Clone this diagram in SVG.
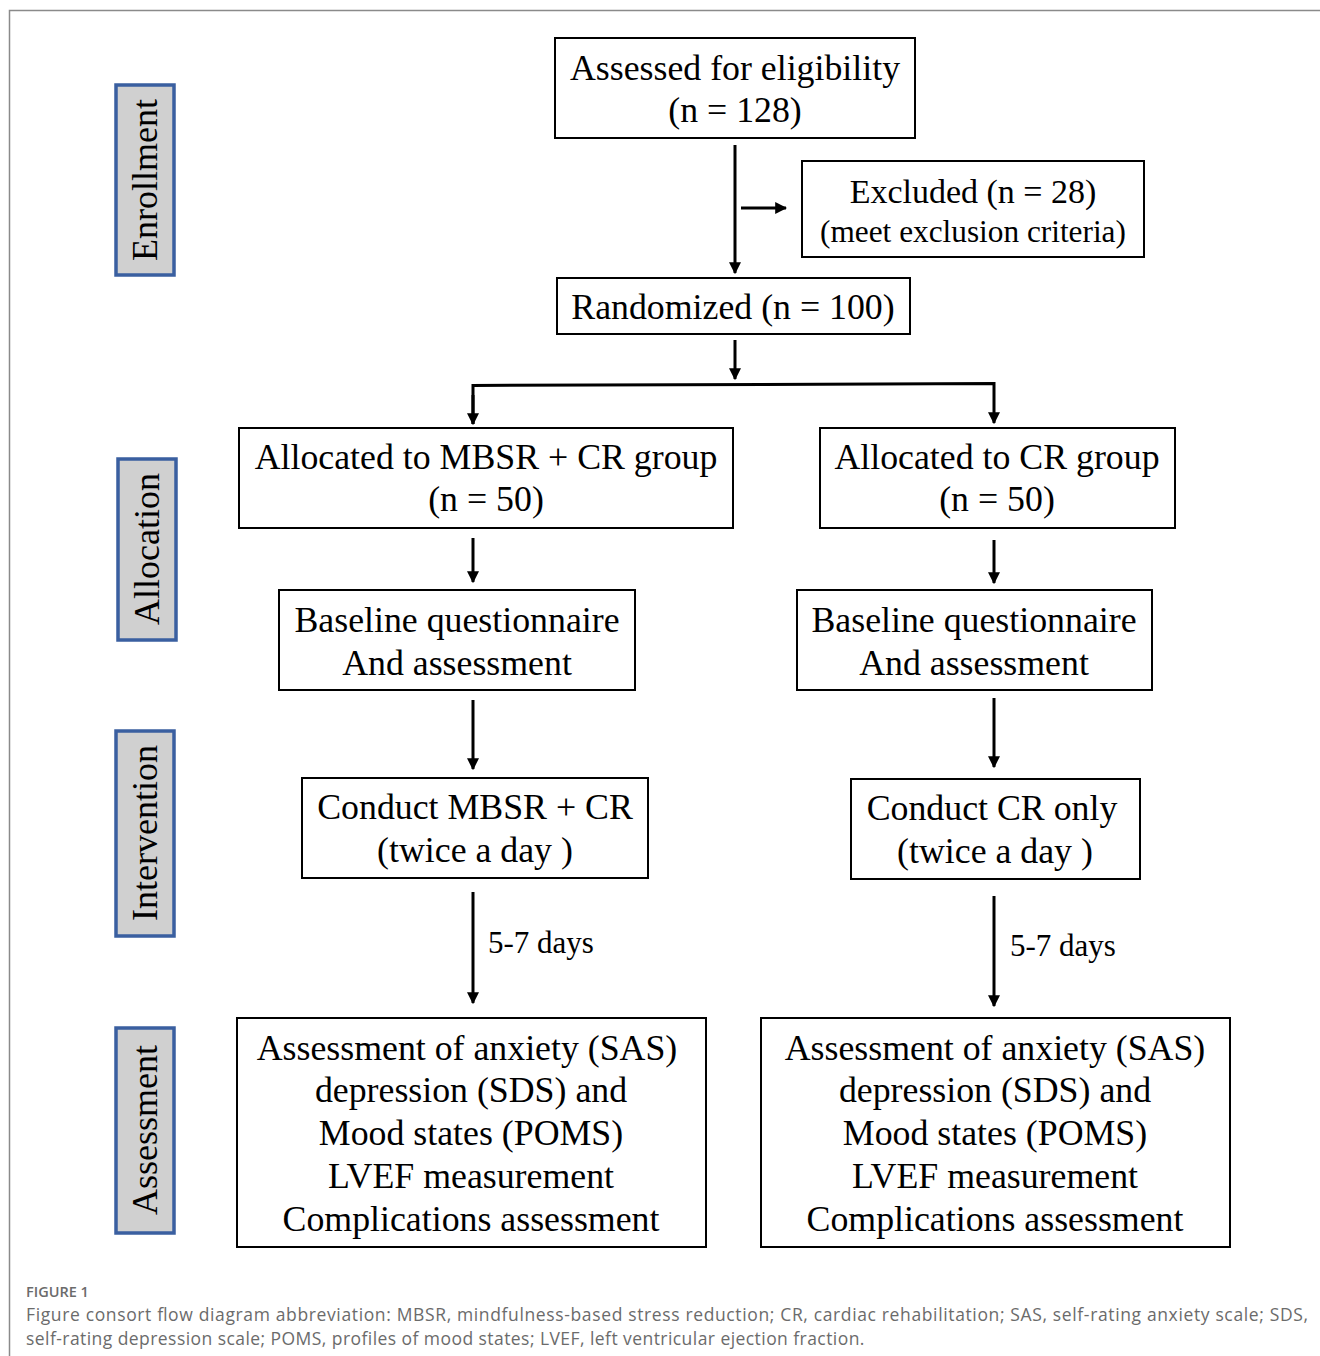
<svg xmlns="http://www.w3.org/2000/svg" width="1320" height="1356" viewBox="0 0 1320 1356">
<defs>
<style>
.box{fill:#fff;stroke:#000;stroke-width:2}
.side{fill:#d0d0d0;stroke:#3a5fa0;stroke-width:3.5}
.t{font-family:"Liberation Serif","Times New Roman",serif;font-size:35.8px;fill:#000;text-anchor:middle}
.ts{font-family:"Liberation Serif","Times New Roman",serif;font-size:31.3px;fill:#000;text-anchor:middle}
.lbl{font-family:"Liberation Serif","Times New Roman",serif;font-size:31px;fill:#000}
.side-t{font-family:"Liberation Serif","Times New Roman",serif;font-size:36px;fill:#000;text-anchor:middle}
.conn{stroke:#000;stroke-width:3;fill:none}
.cap{font-family:"Open Sans","Lato",sans-serif;fill:#6b6b6b}
</style>
<marker id="ah" viewBox="0 0 10 10" refX="9" refY="5" markerWidth="4" markerHeight="4" orient="auto" markerUnits="strokeWidth">
<path d="M0,0 L10,5 L0,10 z" fill="#000"/>
</marker>
</defs>
<rect width="1320" height="1356" fill="#fff"/>
<path d="M1320,10.5 H9.5 V1356" fill="none" stroke="#8a8a8a" stroke-width="1.5"/>

<g id="side-enrollment"><rect class="side" x="116" y="85" width="58" height="190"/><text class="side-t" transform="translate(157,180) rotate(-90)">Enrollment</text></g>
<g id="side-allocation"><rect class="side" x="118" y="459" width="58" height="181"/><text class="side-t" transform="translate(159,549) rotate(-90)">Allocation</text></g>
<g id="side-intervention"><rect class="side" x="116" y="731" width="58" height="205"/><text class="side-t" transform="translate(157,833) rotate(-90)">Intervention</text></g>
<g id="side-assessment"><rect class="side" x="116" y="1028" width="58" height="205"/><text class="side-t" transform="translate(157,1130) rotate(-90)">Assessment</text></g>

<g id="assessed"><rect class="box" x="555" y="38" width="360" height="100"/><text class="t" x="735" y="80">Assessed for eligibility</text><text class="t" x="735" y="122">(n = 128)</text></g>
<g id="excluded"><rect class="box" x="802" y="161" width="342" height="96"/><text class="t" x="973" y="203" style="font-size:34px">Excluded (n = 28)</text><text class="ts" x="973" y="242">(meet exclusion criteria)</text></g>
<g id="randomized"><rect class="box" x="557" y="278" width="353" height="56"/><text class="t" x="733" y="319">Randomized (n = 100)</text></g>
<g id="alloc-mbsr"><rect class="box" x="239" y="428" width="494" height="100"/><text class="t" x="486" y="469">Allocated to MBSR + CR group</text><text class="t" x="486" y="511">(n = 50)</text></g>
<g id="alloc-cr"><rect class="box" x="820" y="428" width="355" height="100"/><text class="t" x="997" y="469">Allocated to CR group</text><text class="t" x="997" y="511">(n = 50)</text></g>
<g id="baseline-left"><rect class="box" x="279" y="590" width="356" height="100"/><text class="t" x="457" y="632">Baseline questionnaire</text><text class="t" x="457" y="675">And assessment</text></g>
<g id="baseline-right"><rect class="box" x="797" y="590" width="355" height="100"/><text class="t" x="974" y="632">Baseline questionnaire</text><text class="t" x="974" y="675">And assessment</text></g>
<g id="conduct-mbsr"><rect class="box" x="302" y="778" width="346" height="100"/><text class="t" x="475" y="819">Conduct MBSR + CR</text><text class="t" x="475" y="862">(twice a day )</text></g>
<g id="conduct-cr"><rect class="box" x="851" y="779" width="289" height="100"/><text class="t" x="992" y="820">Conduct CR only</text><text class="t" x="995" y="863">(twice a day )</text></g>
<g id="assess-left"><rect class="box" x="237" y="1018" width="469" height="229"/>
<text class="t" x="467" y="1060">Assessment of anxiety (SAS)</text>
<text class="t" x="471" y="1102">depression (SDS) and</text>
<text class="t" x="471" y="1145">Mood states (POMS)</text>
<text class="t" x="471" y="1188">LVEF measurement</text>
<text class="t" x="471" y="1231">Complications assessment</text></g>
<g id="assess-right"><rect class="box" x="761" y="1018" width="469" height="229"/>
<text class="t" x="995" y="1060">Assessment of anxiety (SAS)</text>
<text class="t" x="995" y="1102">depression (SDS) and</text>
<text class="t" x="995" y="1145">Mood states (POMS)</text>
<text class="t" x="995" y="1188">LVEF measurement</text>
<text class="t" x="995" y="1231">Complications assessment</text></g>

<g id="connectors">
<line class="conn" x1="735" y1="145" x2="735" y2="273" marker-end="url(#ah)"/>
<line class="conn" x1="741" y1="208" x2="786" y2="208" marker-end="url(#ah)"/>
<line class="conn" x1="735" y1="340" x2="735" y2="379" marker-end="url(#ah)"/>
<polyline class="conn" points="473,424 473,385.5 994,383.5 994,423" marker-end="url(#ah)"/>
<line class="conn" x1="473" y1="395" x2="473" y2="424" marker-end="url(#ah)"/>
<line class="conn" x1="473" y1="538" x2="473" y2="582" marker-end="url(#ah)"/>
<line class="conn" x1="994" y1="540" x2="994" y2="583" marker-end="url(#ah)"/>
<line class="conn" x1="473" y1="700" x2="473" y2="769" marker-end="url(#ah)"/>
<line class="conn" x1="994" y1="698" x2="994" y2="767" marker-end="url(#ah)"/>
<line class="conn" x1="473" y1="892" x2="473" y2="1003" marker-end="url(#ah)"/>
<line class="conn" x1="994" y1="896" x2="994" y2="1006" marker-end="url(#ah)"/>
<text class="lbl" x="488" y="953">5-7 days</text>
<text class="lbl" x="1010" y="956">5-7 days</text>
</g>

<g id="caption">
<text class="cap" x="26" y="1297" style="font-size:14.5px;font-weight:600">FIGURE 1</text>
<text class="cap" x="26" y="1321" style="font-size:17.5px" textLength="1282" lengthAdjust="spacing">Figure consort flow diagram abbreviation: MBSR, mindfulness-based stress reduction; CR, cardiac rehabilitation; SAS, self-rating anxiety scale; SDS,</text>
<text class="cap" x="26" y="1345" style="font-size:17.5px;letter-spacing:0.44px">self-rating depression scale; POMS, profiles of mood states; LVEF, left ventricular ejection fraction.</text>
</g>
</svg>
